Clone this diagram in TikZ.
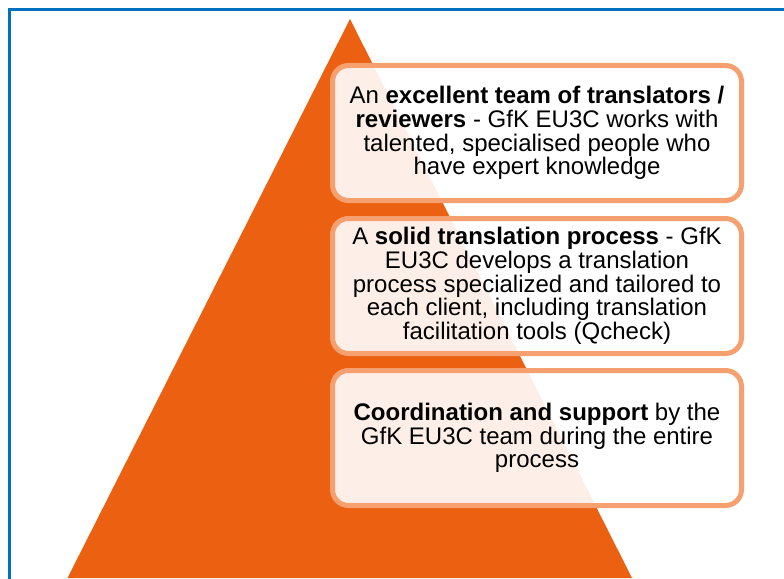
\documentclass[tikz,border=0pt]{standalone}
\usepackage{fontspec}
\setmainfont{Liberation Sans}
\definecolor{pyramid}{RGB}{235,96,17}
\definecolor{boxline}{RGB}{246,160,112}
\definecolor{frameblue}{RGB}{0,112,192}

\begin{document}
\begin{tikzpicture}[x=1pt, y=-1pt,
  level/.style={draw=boxline, line width=5pt, rounded corners=16pt,
    fill=white, fill opacity=0.9, text opacity=1,
    minimum width=409pt, minimum height=135pt, align=center,
    inner sep=2pt, font=\fontsize{24}{23.7}\selectfont}]
\useasboundingbox (0,0) rectangle (784,578);
\clip (0,0) rectangle (784,578);
\fill[white] (0,0) rectangle (784,578);
\draw[frameblue, line width=2.2pt] (9.5,9.5) rectangle (800,600);
% pyramid
\fill[pyramid] (350,19) -- (632,578) -- (67.5,578) -- cycle;
% the three levels
\node[level] (team) at (537,133) {An \textbf{excellent team of translators /}\\
  \textbf{reviewers} - GfK EU3C works with\\
  talented, specialised people who\\
  have expert knowledge};
\node[level] (process) at (537,286) {A \textbf{solid translation process} - GfK\\
  EU3C develops a translation\\
  process specialized and tailored to\\
  each client, including translation\\
  facilitation tools (Qcheck)};
\node[level] (support) at (537,438) {\textbf{Coordination and support} by the\\
  GfK EU3C team during the entire\\
  process};
\end{tikzpicture}
\end{document}
